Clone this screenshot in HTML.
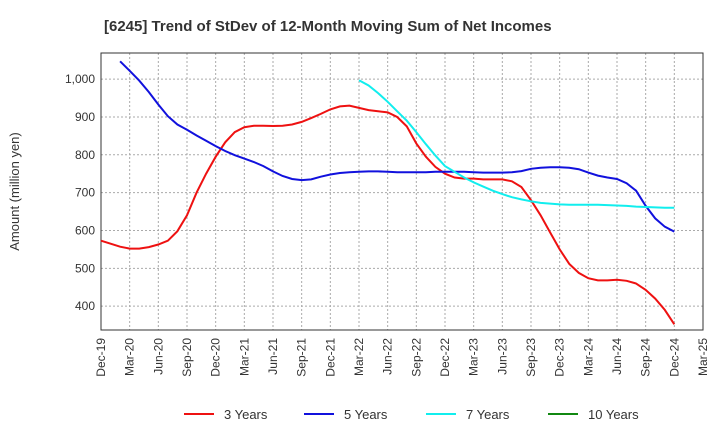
<!DOCTYPE html>
<html><head><meta charset="utf-8"><style>
body{margin:0;background:#fff;font-family:"Liberation Sans",sans-serif;}
svg text{font-family:"Liberation Sans",sans-serif;}
</style></head><body>
<svg id="chart" width="720" height="440">
<text x="104" y="31" font-size="15" font-weight="bold" fill="#333">[6245]  Trend of StDev of 12-Month Moving Sum of Net Incomes</text>
<g id="grid"></g><g id="axes"></g><g id="series"></g><g id="legend"></g>
</svg>
<script>
const xLabels=["Dec-19","Mar-20","Jun-20","Sep-20","Dec-20","Mar-21","Jun-21","Sep-21","Dec-21","Mar-22","Jun-22","Sep-22","Dec-22","Mar-23","Jun-23","Sep-23","Dec-23","Mar-24","Jun-24","Sep-24","Dec-24","Mar-25"];
const yTicks=[400,500,600,700,800,900,1000];
const seriesNames=["3 Years","5 Years","7 Years","10 Years"];
const seriesColors=["#ee1111","#1111dd","#11eeee","#118811"];
const s3=[573,565,557,552,552,556,563,573,598,640,700,750,795,833,860,873,877,877,876,877,880,887,897,908,920,928,930,924,918,915,912,900,875,830,795,768,750,740,737,737,735,735,735,730,715,680,640,595,550,512,488,474,468,468,470,467,460,443,420,390,352];
const s5=[null,null,1047,1022,996,966,933,902,880,866,851,837,823,810,799,790,781,770,756,744,736,733,735,742,748,752,754,755,756,756,755,754,754,754,754,755,755,755,755,754,753,753,753,754,757,763,766,767,767,766,762,753,745,740,736,725,705,665,632,610,597];
const s7=[null,null,null,null,null,null,null,null,null,null,null,null,null,null,null,null,null,null,null,null,null,null,null,null,null,null,null,997,983,963,940,915,890,860,828,798,770,755,740,727,716,705,696,688,682,677,673,671,669,668,668,668,668,667,666,665,663,662,661,660,660];
const s10=[];
const allSeries=[s3,s5,s7,s10];
const L=101,R=703,T=53,B=330,yMin=337,yMax=1069;
const x=i=>L+(R-L)*i/63;
const y=v=>B-(v-yMin)/(yMax-yMin)*(B-T);
const NS="http://www.w3.org/2000/svg";
function mk(p,tag,a){const e=document.createElementNS(NS,tag);for(const k in a)e.setAttribute(k,a[k]);document.getElementById(p).appendChild(e);return e;}
xLabels.forEach((lab,k)=>{const xx=x(k*3);
const g=mk("grid","line",{x1:xx,x2:xx,y1:T,y2:B,stroke:"#aaa","stroke-dasharray":"2,2","stroke-width":1});


const t=mk("axes","text",{x:xx+4,y:B+8,"font-size":12,fill:"#333","text-anchor":"end",transform:`rotate(-90 ${xx+4} ${B+8})`});t.textContent=lab;

});
yTicks.forEach(v=>{const yy=y(v);
const g=mk("grid","line",{x1:L,x2:R,y1:yy,y2:yy,stroke:"#aaa","stroke-dasharray":"2,2","stroke-width":1});


const t=mk("axes","text",{x:L-6,y:yy+4,"font-size":12,fill:"#333","text-anchor":"end"});t.textContent=v.toLocaleString("en-US");

});
const fr=mk("axes","rect",{x:L,y:T,width:R-L,height:B-T,fill:"none",stroke:"#333","stroke-width":1});


const yt=mk("axes","text",{x:19,y:(T+B)/2,"font-size":13,fill:"#333","text-anchor":"middle",transform:`rotate(-90 19 ${(T+B)/2})`});yt.textContent="Amount (million yen)";


allSeries.forEach((s,si)=>{let d="";s.forEach((v,i)=>{if(v==null)return;d+=(d?"L":"M")+x(i).toFixed(1)+","+y(v).toFixed(1);});
if(d){const p=mk("series","path",{d:d,fill:"none",stroke:seriesColors[si],"stroke-width":2});

}});
const lx=[184,304,426,548];
seriesNames.forEach((n,i)=>{const l=mk("legend","line",{x1:lx[i],x2:lx[i]+30,y1:414,y2:414,stroke:seriesColors[i],"stroke-width":2});


const t=mk("legend","text",{x:lx[i]+40,y:419,"font-size":13,fill:"#333"});t.textContent=n;

});
</script>
</body></html>
